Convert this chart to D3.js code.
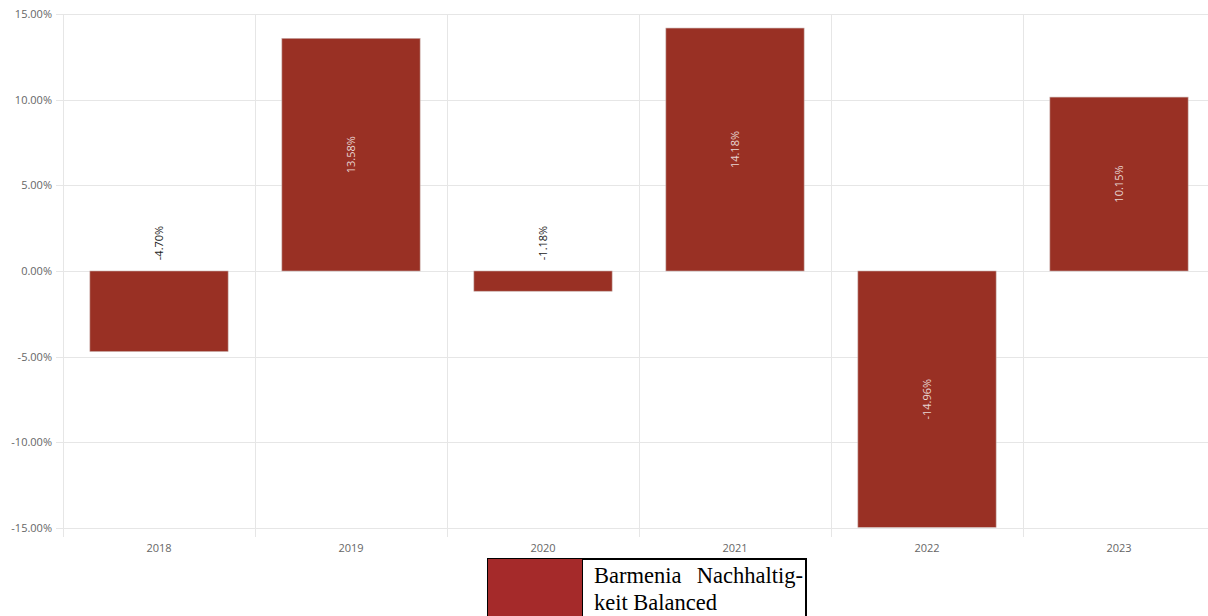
<!DOCTYPE html>
<html><head><meta charset="utf-8">
<script src="https://cdn.jsdelivr.net/npm/d3@7"></script>
<style>
body{margin:0;background:#fff;overflow:hidden;}
svg{display:block;}
</style></head>
<body>
<svg id="c" width="1208" height="616"></svg>
<script>
const categories = ["2018","2019","2020","2021","2022","2023"];
const values = [-4.70, 13.58, -1.18, 14.18, -14.96, 10.15];
const yTicks = [-15, -10, -5, 0, 5, 10, 15];
const seriesName = "Barmenia Nachhaltigkeit Balanced";

const svg = d3.select("#c");
const x = d3.scaleBand().domain(categories).range([63, 1215]).paddingInner(0.28).paddingOuter(0.14);
const y = d3.scaleLinear().domain([-15, 15]).range([528, 14]);
const font = "'Open Sans', sans-serif";

svg.append("g").selectAll("line").data(yTicks).join("line")
  .attr("x1", 56).attr("x2", 1208)
  .attr("y1", d => Math.round(y(d)) + 0.5).attr("y2", d => Math.round(y(d)) + 0.5)
  .attr("stroke", "#e6e6e6").attr("stroke-width", 1);

const step = x.step();
const bounds = categories.map((c, i) => x.range()[0] + i * step);
svg.append("g").selectAll("line").data(bounds).join("line")
  .attr("x1", d => Math.round(d) + 0.5).attr("x2", d => Math.round(d) + 0.5)
  .attr("y1", 14).attr("y2", 537)
  .attr("stroke", "#e6e6e6").attr("stroke-width", 1);

svg.append("g").selectAll("text").data(yTicks).join("text")
  .attr("x", 52).attr("y", d => y(d) + 4)
  .attr("text-anchor", "end").attr("font-family", font).attr("font-size", 11)
  .attr("fill", "#666").text(d => d.toFixed(2) + "%");

svg.append("g").selectAll("text").data(categories).join("text")
  .attr("x", d => x(d) + x.bandwidth() / 2).attr("y", 552)
  .attr("text-anchor", "middle").attr("font-family", font).attr("font-size", 11)
  .attr("fill", "#666").text(d => d);

const data = categories.map((c, i) => ({c, v: values[i]}));
svg.append("g").selectAll("rect").data(data).join("rect")
  .attr("x", d => x(d.c)).attr("width", x.bandwidth())
  .attr("y", d => y(Math.max(0, d.v))).attr("height", d => Math.abs(y(d.v) - y(0)))
  .attr("fill", "#993024").attr("stroke", "#c8b0ac").attr("stroke-width", 0.6);

const inside = d => Math.abs(y(d.v) - y(0)) > 120;
svg.append("g").selectAll("text").data(data).join("text")
  .attr("transform", d => {
    const cx = x(d.c) + x.bandwidth() / 2 + 4;
    const cy = inside(d) ? (y(Math.max(0, d.v)) + y(Math.min(0, d.v))) / 2 : y(0) - 28;
    return `translate(${cx},${cy}) rotate(-90)`;
  })
  .attr("text-anchor", "middle").attr("font-family", font).attr("font-size", 11)
  .attr("fill", d => inside(d) ? "#e8d6d3" : "#222")
  .text(d => d.v.toFixed(2) + "%");

const lg = svg.append("g");
lg.append("rect").attr("x", 488).attr("y", 559).attr("width", 318).attr("height", 70)
  .attr("fill", "#fff").attr("stroke", "#000").attr("stroke-width", 2);
lg.append("rect").attr("x", 488).attr("y", 559).attr("width", 94).attr("height", 70)
  .attr("fill", "#a52a2a");
lg.append("line").attr("x1", 582.5).attr("x2", 582.5).attr("y1", 559).attr("y2", 616)
  .attr("stroke", "#000").attr("stroke-width", 1);
const lf = "'Liberation Serif', serif";
lg.append("text").attr("x", 594).attr("y", 583).attr("font-family", lf).attr("font-size", 22.5).text("Barmenia");
lg.append("text").attr("x", 803).attr("y", 583).attr("text-anchor", "end").attr("font-family", lf).attr("font-size", 22.5).text("Nachhaltig-");
lg.append("text").attr("x", 594).attr("y", 610).attr("font-family", lf).attr("font-size", 22.5).text("keit Balanced");
</script>
</body></html>
